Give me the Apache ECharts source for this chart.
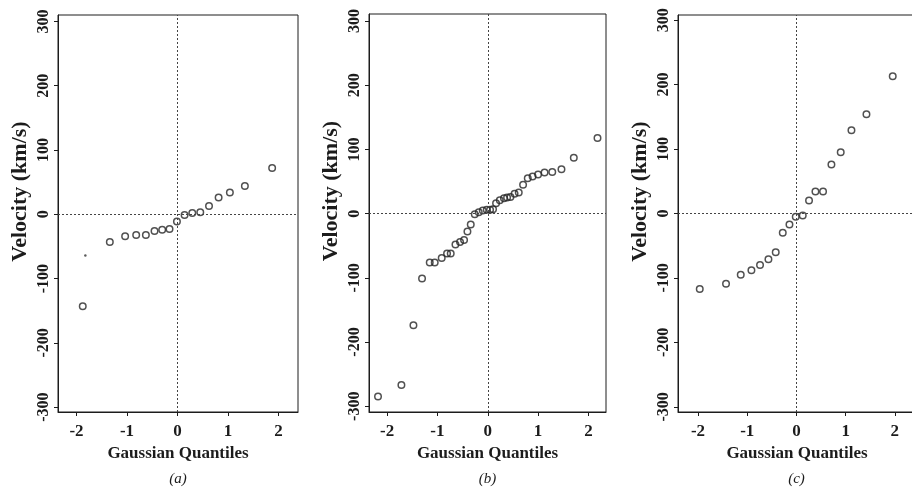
<!DOCTYPE html>
<html>
<head>
<meta charset="utf-8">
<script src="https://cdn.jsdelivr.net/npm/echarts@6/dist/echarts.min.js"></script>
<style>
  html, body { margin: 0; padding: 0; background: #fff; }
  #chart { width: 912px; height: 489px; }
</style>
</head>
<body>
<div id="chart"></div>
<script>
// Normal Q-Q plots of velocity samples, three panels.
const quantilesA = [-1.877, -1.341, -1.038, -0.819, -0.627, -0.456, -0.304, -0.159, -0.012, 0.139, 0.292, 0.450, 0.623, 0.813, 1.036, 1.333, 1.873];
const velocityA  = [-143, -43, -34, -32, -32, -26, -24, -23, -11, -1, 2, 3, 13, 26, 34, 44, 72];
// stray small dot in panel (a)
const dotQuantileA = [-1.825];
const dotVelocityA = [-64];

const quantilesB = [-2.181, -1.716, -1.477, -1.306, -1.153, -1.054, -0.915, -0.809, -0.736, -0.642, -0.551, -0.471, -0.404, -0.338, -0.258, -0.179, -0.099, -0.020,
                    0.046, 0.105, 0.165, 0.239, 0.322, 0.384, 0.451, 0.533, 0.616, 0.702, 0.795, 0.891, 1.000, 1.129, 1.282, 1.465, 1.710, 2.181];
const velocityB  = [-285, -267, -174, -101, -76, -76, -69, -62, -62, -48, -44, -41, -28, -17, -1, 2, 5, 6,
                    6, 7, 16, 21, 24, 25, 26, 31, 33, 45, 55, 58, 61, 64, 65, 69, 87, 118];

const quantilesC = [-1.965, -1.431, -1.132, -0.915, -0.740, -0.569, -0.421, -0.278, -0.142, -0.014, 0.128, 0.256, 0.386, 0.541, 0.711, 0.900, 1.118, 1.423, 1.957];
const velocityC  = [-117, -109, -95, -88, -80, -71, -60, -30, -17, -5, -3, 20, 34, 34, 76, 95, 129, 154, 213];

const xTicks = [-2, -1, 0, 1, 2];
const yTicks = [-300, -200, -100, 0, 100, 200, 300];
const panelLetters = ['(a)', '(b)', '(c)'];
const xTitle = 'Gaussian Quantiles';
const yTitle = 'Velocity (km/s)';

const serif = '"Liberation Serif", "DejaVu Serif", serif';
const ink = '#1c1c1c';

const panels = [
  { grid: { left: 58, top: 15, width: 240, height: 397 }, x: [-2.367, 2.385], y: [-307.5, 310], q: quantilesA, v: velocityA },
  { grid: { left: 369, top: 14, width: 237, height: 398 }, x: [-2.36, 2.35], y: [-309, 311], q: quantilesB, v: velocityB },
  { grid: { left: 678, top: 15, width: 238, height: 397 }, x: [-2.407, 2.43], y: [-308, 308], q: quantilesC, v: velocityC }
];

const zip = (a, b) => a.map((d, i) => [d, b[i]]);

const option = {
  backgroundColor: '#fff',
  animation: false,
  grid: panels.map(p => Object.assign({
    show: true, borderColor: ink, borderWidth: 1, backgroundColor: 'transparent',
    containLabel: false, outerBoundsMode: 'none'
  }, p.grid)),
  xAxis: panels.map((p, i) => ({
    type: 'value', gridIndex: i, min: p.x[0], max: p.x[1],
    name: xTitle, nameLocation: 'middle', nameGap: 33,
    nameTextStyle: { fontFamily: serif, fontSize: 17, fontWeight: 'bold', color: ink },
    axisLine: { show: true, onZero: false, lineStyle: { color: ink, width: 1 } },
    axisTick: { show: true, length: 4, customValues: xTicks, lineStyle: { color: ink } },
    axisLabel: { customValues: xTicks, fontFamily: serif, fontSize: 17, fontWeight: 'bold', color: ink, margin: 11 },
    splitLine: { show: false }
  })),
  yAxis: panels.map((p, i) => ({
    type: 'value', gridIndex: i, min: p.y[0], max: p.y[1],
    name: yTitle, nameLocation: 'middle', nameGap: 27, nameRotate: 90,
    nameTextStyle: { fontFamily: serif, fontSize: 22, fontWeight: 'bold', color: ink, padding: [0, 0, 0, 44] },
    axisLine: { show: true, onZero: false, lineStyle: { color: ink, width: 1 } },
    axisTick: { show: true, length: 4, customValues: yTicks, lineStyle: { color: ink } },
    axisLabel: { customValues: yTicks, rotate: 90, fontFamily: serif, fontSize: 16, fontWeight: 'bold', color: ink, margin: 6 },
    splitLine: { show: false }
  })),
  title: panels.map((p, i) => ({
    text: panelLetters[i],
    left: p.grid.left + (i === 2 ? 118.5 : p.grid.width / 2),
    top: 472, textAlign: 'center', padding: 0,
    textStyle: { fontFamily: serif, fontStyle: 'italic', fontWeight: 'normal', fontSize: 15, color: ink }
  })),
  series: panels.map((p, i) => ({
    type: 'scatter', xAxisIndex: i, yAxisIndex: i,
    data: zip(p.q, p.v),
    symbol: 'circle', symbolSize: 6.5,
    itemStyle: { color: 'rgba(255,255,255,0)', borderColor: '#262626', borderWidth: 1.5 },
    silent: true,
    markLine: {
      silent: true, symbol: ['none', 'none'], label: { show: false },
      lineStyle: { type: [2, 2], color: '#444', width: 1 },
      emphasis: { disabled: true },
      data: [{ xAxis: 0 }, { yAxis: 0 }]
    }
  })).concat([{
    type: 'scatter', xAxisIndex: 0, yAxisIndex: 0,
    data: zip(dotQuantileA, dotVelocityA),
    symbol: 'circle', symbolSize: 2.5,
    itemStyle: { color: '#333' }, silent: true
  }])
};

const chart = echarts.init(document.getElementById('chart'), null, { renderer: 'canvas' });
chart.setOption(option);
</script>
</body>
</html>
